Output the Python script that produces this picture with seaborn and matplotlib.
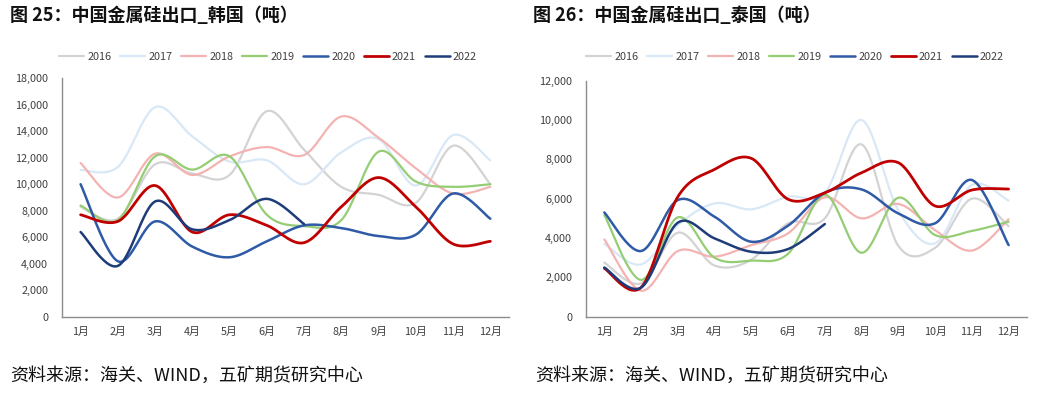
import numpy as np
import pandas as pd
import matplotlib.pyplot as plt
import seaborn as sns

months = [f'{i}月' for i in range(1, 13)]
years = ['2016', '2017', '2018', '2019', '2020', '2021', '2022']
colors = ['#D3D3D3', '#D9E8F6', '#F4B3B3', '#95CD74', '#2F5AA6', '#C00000', '#1F3C7A']
widths = [1.6, 1.6, 1.6, 1.6, 1.8, 2.0, 1.8]

# 韩国 (吨)
kr_2016 = [8300, 7400, 11500, 10800, 10700, 15500, 12600, 9800, 9200, 8600, 12900, 10000]
kr_2017 = [11070, 11300, 15800, 13600, 11700, 11800, 10000, 12400, 13400, 9900, 13700, 11800]
kr_2018 = [11600, 9000, 12300, 10700, 12100, 12800, 12200, 15100, 13500, 11200, 9300, 9800]
kr_2019 = [8400, 7300, 12100, 11100, 12100, 7700, 6850, 7300, 12450, 10200, 9800, 10000]
kr_2020 = [10000, 4200, 7200, 5300, 4500, 5700, 6900, 6700, 6100, 6200, 9300, 7400]
kr_2021 = [7700, 7200, 9900, 6400, 7700, 6900, 5600, 8300, 10500, 8300, 5500, 5700]
kr_2022 = [6400, 3850, 8700, 6600, 7300, 8900, 7000]

# 泰国 (吨)
th_2016 = [2750, 1700, 4270, 2600, 2900, 4750, 5000, 8760, 3600, 3500, 6000, 4600]
th_2017 = [3700, 2660, 4660, 5760, 5460, 6100, 6300, 10000, 5400, 3730, 6700, 5900]
th_2018 = [3930, 1320, 3340, 3050, 3640, 4240, 6070, 5000, 5730, 4400, 3360, 4950]
th_2019 = [5170, 1870, 5050, 3000, 2850, 3200, 6200, 3250, 6050, 4150, 4360, 4830]
th_2020 = [5300, 3340, 5930, 5080, 3810, 4630, 6300, 6470, 5250, 4750, 6950, 3640]
th_2021 = [2460, 1490, 6100, 7490, 8050, 5970, 6300, 7320, 7830, 5630, 6440, 6490]
th_2022 = [2500, 1480, 4780, 3980, 3300, 3440, 4710]

kr = [kr_2016, kr_2017, kr_2018, kr_2019, kr_2020, kr_2021, kr_2022]
th = [th_2016, th_2017, th_2018, th_2019, th_2020, th_2021, th_2022]

txt = '#404040'
axc = '#8C8C8C'


# Excel-style smoothed line (Catmull-Rom Bezier through the points)
def smooth(vals, n=30):
    y = np.asarray(vals, dtype=float)
    x = np.arange(1, len(y) + 1, dtype=float)
    px = np.concatenate([[x[0]], x, [x[-1]]])
    py = np.concatenate([[y[0]], y, [y[-1]]])
    xs, ys = [], []
    t = np.linspace(0, 1, n)
    for i in range(1, len(x)):
        p0 = np.array([px[i], py[i]])
        p3 = np.array([px[i + 1], py[i + 1]])
        c1 = p0 + (p3 - np.array([px[i - 1], py[i - 1]])) / 6
        c2 = p3 - (np.array([px[i + 2], py[i + 2]]) - p0) / 6
        b = ((1 - t) ** 3)[:, None] * p0 + (3 * (1 - t) ** 2 * t)[:, None] * c1 \
            + (3 * (1 - t) * t ** 2)[:, None] * c2 + (t ** 3)[:, None] * p3
        xs.extend(b[:, 0])
        ys.extend(b[:, 1])
    return np.array(xs), np.array(ys)


def draw(ax, series, ymax, step):
    for yr, vals, c, lw in zip(years, series, colors, widths):
        xs, ys = smooth(vals)
        df = pd.DataFrame({'x': xs, 'v': ys})
        sns.lineplot(data=df, x='x', y='v', ax=ax, color=c, linewidth=lw,
                     sort=False, estimator=None, label=yr)
    ax.set_xlim(0.5, 12.5)
    ax.set_ylim(0, ymax)
    ax.set_xticks(range(1, 13))
    ax.set_xticklabels(months)
    ax.set_xticks(np.arange(0.5, 13, 1), minor=True)
    ax.set_yticks(np.arange(0, ymax + 1, step))
    ax.set_yticklabels([f'{int(v):,}' for v in np.arange(0, ymax + 1, step)])
    ax.tick_params(axis='x', which='major', length=0, pad=7, labelsize=7.8, labelcolor=txt)
    ax.tick_params(axis='x', which='minor', length=4, color=axc, width=1)
    ax.tick_params(axis='y', length=4, color=axc, width=1, pad=6, labelsize=7.8, labelcolor=txt)
    for s in ['top', 'right']:
        ax.spines[s].set_visible(False)
    for s in ['left', 'bottom']:
        ax.spines[s].set_color(axc)
        ax.spines[s].set_linewidth(1)
    ax.set_xlabel('')
    ax.set_ylabel('')
    ax.grid(False)
    h, l = ax.get_legend_handles_labels()
    ax.get_legend().remove()
    return h, l


sns.set_style('white')
plt.rcParams['font.family'] = ['Noto Sans CJK SC', 'DejaVu Sans']

fig = plt.figure(figsize=(10.52, 3.98), dpi=100)
ax1 = fig.add_axes([0.0589, 0.2035, 0.4249, 0.6005])
ax2 = fig.add_axes([0.557, 0.2043, 0.4192, 0.593])

h1, l1 = draw(ax1, kr, 18000, 2000)
h2, l2 = draw(ax2, th, 12000, 2000)

for h, l, xc in [(h1, l1, 268 / 1052), (h2, l2, 795 / 1052)]:
    leg = fig.legend(h, l, ncol=7, loc='center', bbox_to_anchor=(xc, 1 - 57 / 398),
                     frameon=False, fontsize=7.8, handlelength=2.3, handletextpad=0.3,
                     columnspacing=0.8)
    for t in leg.get_texts():
        t.set_color(txt)

fig.text(10 / 1052, 1 - 16 / 398, '图 25：中国金属硅出口_韩国（吨）', fontsize=13,
         fontweight='bold', va='center', ha='left', color='#111111')
fig.text(533 / 1052, 1 - 16 / 398, '图 26：中国金属硅出口_泰国（吨）', fontsize=13,
         fontweight='bold', va='center', ha='left', color='#111111')
fig.text(10 / 1052, 1 - 376 / 398, '资料来源：海关、WIND，五矿期货研究中心', fontsize=13,
         va='center', ha='left', color='#111111')
fig.text(535 / 1052, 1 - 376 / 398, '资料来源：海关、WIND，五矿期货研究中心', fontsize=13,
         va='center', ha='left', color='#111111')

fig.savefig('out.png', dpi=100)
